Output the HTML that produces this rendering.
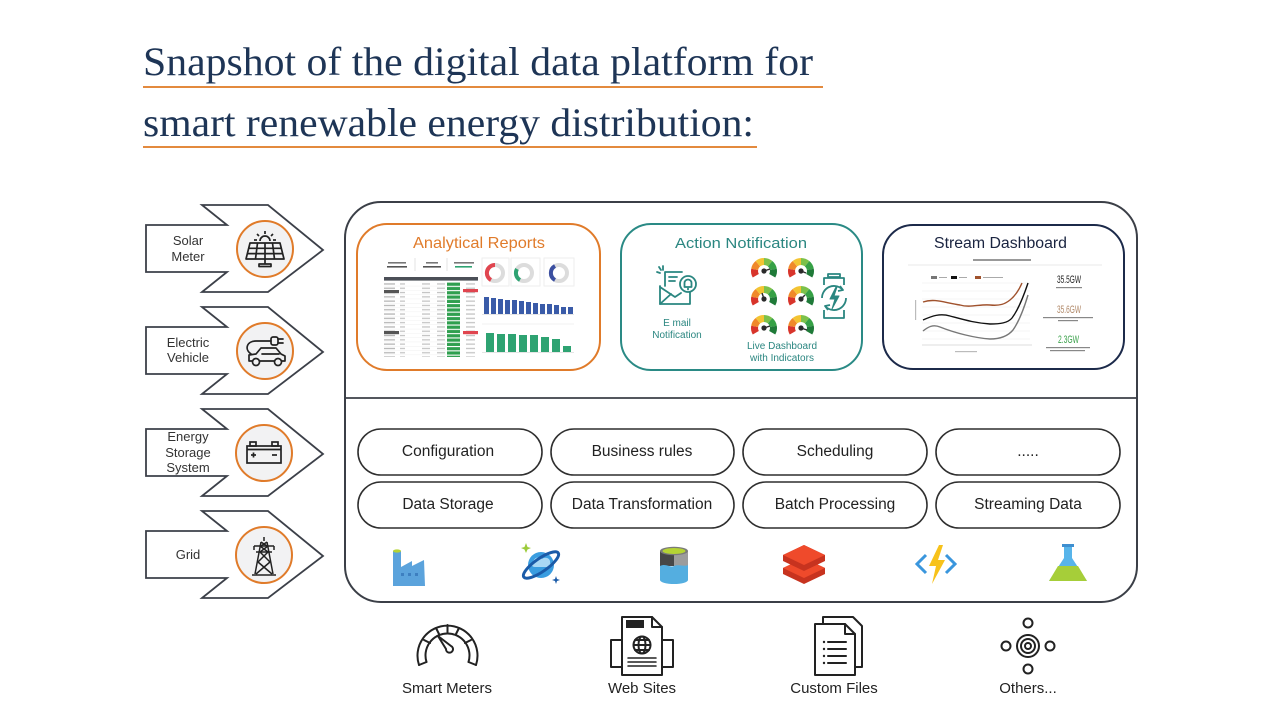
<!DOCTYPE html>
<html><head><meta charset="utf-8">
<style>
html,body{margin:0;padding:0;background:#fff;}
svg{display:block;}
text{font-family:"Liberation Sans",sans-serif;}
</style></head>
<body>
<svg width="1280" height="720" viewBox="0 0 1280 720" xmlns="http://www.w3.org/2000/svg">
<defs>
  <pattern id="rows" patternUnits="userSpaceOnUse" x="384" y="282" width="100" height="4.3">
    <rect x="0" y="1.3" width="11" height="1.3" fill="#b5b5b5"/>
    <rect x="16" y="1.3" width="5" height="1.3" fill="#c4c4c4"/>
    <rect x="38" y="1.3" width="8" height="1.3" fill="#c4c4c4"/>
    <rect x="53" y="1.3" width="8" height="1.3" fill="#c4c4c4"/>
    <rect x="0" y="4.0" width="100" height="0.3" fill="#e6e6e6"/>
  </pattern>
  <pattern id="greens" patternUnits="userSpaceOnUse" x="447" y="282" width="20" height="4.3">
    <rect x="0" y="0.6" width="13" height="3.2" fill="#2f9f4f"/>
  </pattern>
  <pattern id="grays" patternUnits="userSpaceOnUse" x="463" y="282" width="20" height="4.3">
    <rect x="3" y="1.3" width="9" height="1.3" fill="#c4c4c4"/>
  </pattern>
  <g id="gauge">
    <path d="M-8.23,4.75 A9.5,9.5 0 0 1 -9.36,-1.65" fill="none" stroke="#d8342b" stroke-width="7"/>
    <path d="M-9.36,-1.65 A9.5,9.5 0 0 1 -6.11,-7.28" fill="none" stroke="#f0892a" stroke-width="7"/>
    <path d="M-6.11,-7.28 A9.5,9.5 0 0 1 0,-9.5" fill="none" stroke="#f3c433" stroke-width="7"/>
    <path d="M0,-9.5 A9.5,9.5 0 0 1 6.11,-7.28" fill="none" stroke="#7cc14a" stroke-width="7"/>
    <path d="M6.11,-7.28 A9.5,9.5 0 0 1 9.36,-1.65" fill="none" stroke="#36a146" stroke-width="7"/>
    <path d="M9.36,-1.65 A9.5,9.5 0 0 1 8.23,4.75" fill="none" stroke="#1f7a38" stroke-width="7"/>
    <circle cx="0" cy="0" r="2.6" fill="#2a2a2a"/>
  </g>
</defs>

<!-- Title -->
<text x="143" y="75" style="font-family:'Liberation Serif',serif" font-size="40" fill="#1e3556" textLength="670" lengthAdjust="spacingAndGlyphs">Snapshot of the digital data platform for</text>
<line x1="143" y1="87" x2="823" y2="87" stroke="#e38a3e" stroke-width="2"/>
<text x="143" y="136" style="font-family:'Liberation Serif',serif" font-size="40" fill="#1e3556" textLength="611" lengthAdjust="spacingAndGlyphs">smart renewable energy distribution:</text>
<line x1="143" y1="147" x2="757" y2="147" stroke="#e38a3e" stroke-width="2"/>

<!-- Left arrows -->
<g fill="#fff" stroke="#3c4049" stroke-width="1.8" stroke-linejoin="miter">
  <polygon points="202,205 268,205 323,250 268,292 202,292 227,272 146,272 146,225 227,225"/>
  <polygon points="202,307 268,307 323,352 268,394 202,394 227,374 146,374 146,327 227,327"/>
  <polygon points="202,409 268,409 323,454 268,496 202,496 227,476 146,476 146,429 227,429"/>
  <polygon points="202,511 268,511 323,556 268,598 202,598 227,578 146,578 146,531 227,531"/>
</g>
<g fill="#f2f2f3" stroke="#e07b2a" stroke-width="2">
  <circle cx="265" cy="249" r="28"/>
  <circle cx="265" cy="351" r="28"/>
  <circle cx="264" cy="453" r="28"/>
  <circle cx="264" cy="555" r="28"/>
</g>
<g font-size="13" fill="#333" text-anchor="middle">
  <text x="188" y="245">Solar</text>
  <text x="188" y="261">Meter</text>
  <text x="188" y="347">Electric</text>
  <text x="188" y="362">Vehicle</text>
  <text x="188" y="441">Energy</text>
  <text x="188" y="457">Storage</text>
  <text x="188" y="472">System</text>
  <text x="188" y="559">Grid</text>
</g>

<!-- Solar icon -->
<g fill="none" stroke="#222" stroke-width="1.7" stroke-linejoin="round">
  <path d="M260,241 A5,5 0 0 1 270,241"/>
  <line x1="265" y1="231" x2="265" y2="234"/><line x1="257" y1="234" x2="259" y2="236"/><line x1="273" y1="234" x2="271" y2="236"/>
  <line x1="254" y1="240" x2="257" y2="240"/><line x1="273" y1="240" x2="276" y2="240"/>
  <polygon points="250,243 280,243 284,259 246,259"/>
  <line x1="248.7" y1="248.3" x2="281.3" y2="248.3"/><line x1="247.4" y1="253.6" x2="282.6" y2="253.6"/>
  <line x1="257.5" y1="243" x2="255.5" y2="259"/><line x1="265" y1="243" x2="265" y2="259"/><line x1="272.5" y1="243" x2="274.5" y2="259"/>
  <line x1="265" y1="259" x2="265" y2="264"/><rect x="259" y="264" width="12" height="2.5"/>
</g>
<!-- EV icon -->
<g fill="none" stroke="#222" stroke-width="1.7" stroke-linejoin="round" stroke-linecap="round">
  <path d="M249,361 L249,355 L256,354 L261,348 L276,348 L281,354 L285,356 L285,361 Z" fill="#f2f2f3"/>
  <line x1="262" y1="354" x2="279" y2="354"/>
  <circle cx="256" cy="362" r="3.5" fill="#f2f2f3"/><circle cx="278" cy="362" r="3.5" fill="#f2f2f3"/>
  <path d="M251,354 C244,349 247,341 256,341 L271,341"/>
  <rect x="271" y="337" width="7" height="8" rx="2"/>
  <line x1="278" y1="339" x2="283" y2="339"/><line x1="278" y1="343" x2="283" y2="343"/>
</g>
<!-- Battery icon -->
<g fill="none" stroke="#222" stroke-width="1.7">
  <rect x="247" y="446" width="34" height="17"/>
  <line x1="247" y1="449.5" x2="281" y2="449.5"/>
  <rect x="250" y="442" width="6" height="4"/><rect x="272" y="442" width="6" height="4"/>
  <line x1="251" y1="455" x2="256" y2="455"/><line x1="253.5" y1="452.5" x2="253.5" y2="457.5"/>
  <line x1="272" y1="455" x2="277" y2="455"/>
</g>
<!-- Tower icon -->
<g fill="none" stroke="#222" stroke-width="1.5">
  <line x1="264" y1="537" x2="264" y2="541"/>
  <line x1="261" y1="542" x2="255" y2="574"/><line x1="267" y1="542" x2="273" y2="574"/>
  <line x1="254" y1="546" x2="274" y2="546"/><line x1="256" y1="552" x2="272" y2="552"/>
  <line x1="254" y1="546" x2="254" y2="550"/><line x1="274" y1="546" x2="274" y2="550"/>
  <line x1="261" y1="542" x2="267" y2="546"/><line x1="267" y1="542" x2="261" y2="546"/>
  <line x1="260" y1="546" x2="268" y2="552"/><line x1="268" y1="546" x2="260" y2="552"/>
  <line x1="260" y1="552" x2="270" y2="562"/><line x1="268" y1="552" x2="258" y2="562"/>
  <line x1="258" y1="562" x2="272" y2="574"/><line x1="270" y1="562" x2="256" y2="574"/>
  <line x1="252" y1="575" x2="276" y2="575"/>
</g>

<!-- Outer platform box -->
<rect x="345" y="202" width="792" height="400" rx="36" fill="#fff" stroke="#3b3f47" stroke-width="2"/>
<line x1="345" y1="398" x2="1137" y2="398" stroke="#3b3f47" stroke-width="1.8"/>

<!-- Analytical Reports -->
<rect x="357" y="224" width="243" height="146" rx="30" fill="#fff" stroke="#e07b2a" stroke-width="2"/>
<text x="413" y="248" font-size="16" fill="#e07b2a" textLength="132" lengthAdjust="spacingAndGlyphs">Analytical Reports</text>
<g>
  <rect x="388" y="262" width="18" height="1.6" fill="#777"/><rect x="387" y="266" width="20" height="1.6" fill="#555"/>
  <rect x="426" y="262" width="12" height="1.6" fill="#777"/><rect x="423" y="266" width="18" height="1.6" fill="#555"/>
  <rect x="454" y="262" width="20" height="1.6" fill="#777"/><rect x="455" y="266" width="17" height="1.6" fill="#2ea372"/>
  <line x1="415" y1="258" x2="415" y2="271" stroke="#e3e3e3"/><line x1="447" y1="258" x2="447" y2="271" stroke="#e3e3e3"/>
  <rect x="384" y="277" width="94" height="3.6" fill="#4b4f57"/>
  <rect x="384" y="282" width="62" height="75" fill="url(#rows)"/>
  <rect x="447" y="282" width="14" height="75" fill="url(#greens)"/>
  <rect x="463" y="282" width="15" height="75" fill="url(#grays)"/>
  <rect x="384" y="290" width="15" height="3.2" fill="#555"/>
  <rect x="384" y="331" width="15" height="3.2" fill="#555"/>
  <rect x="463" y="289" width="15" height="3.2" fill="#e0454f"/>
  <rect x="463" y="331" width="15" height="3.2" fill="#e0454f"/>
  <!-- gauges -->
  <rect x="482" y="258" width="27" height="28" fill="none" stroke="#eee"/>
  <rect x="511" y="258" width="29" height="28" fill="none" stroke="#eee"/>
  <rect x="544" y="258" width="30" height="28" fill="none" stroke="#eee"/>
  <circle cx="495" cy="273" r="8" fill="none" stroke="#dcdcdc" stroke-width="4"/>
  <path d="M491,280 A8,8 0 0 1 495,265" fill="none" stroke="#e0454f" stroke-width="4"/>
  <circle cx="524" cy="273" r="8" fill="none" stroke="#dcdcdc" stroke-width="4"/>
  <path d="M520,280 A8,8 0 0 1 517,269" fill="none" stroke="#2ea372" stroke-width="4"/>
  <circle cx="559" cy="273" r="8" fill="none" stroke="#dcdcdc" stroke-width="4"/>
  <path d="M555,280 A8,8 0 0 1 555,266" fill="none" stroke="#3b4fa0" stroke-width="4"/>
  <!-- blue bars -->
  <g fill="#3a5ba8">
    <rect x="484" y="297" width="5" height="17"/><rect x="491" y="298" width="5" height="16"/><rect x="498" y="299" width="5" height="15"/>
    <rect x="505" y="300" width="5" height="14"/><rect x="512" y="300" width="5" height="14"/><rect x="519" y="301" width="5" height="13"/>
    <rect x="526" y="302" width="5" height="12"/><rect x="533" y="303" width="5" height="11"/><rect x="540" y="304" width="5" height="10"/>
    <rect x="547" y="304" width="5" height="10"/><rect x="554" y="305" width="5" height="9"/><rect x="561" y="307" width="5" height="7"/>
    <rect x="568" y="307" width="5" height="7"/>
  </g>
  <line x1="482" y1="314.5" x2="574" y2="314.5" stroke="#ccc" stroke-width="0.6"/>
  <line x1="482" y1="324" x2="574" y2="324" stroke="#e5e5e5" stroke-width="0.6"/>
  <g fill="#2ea372">
    <rect x="486" y="333" width="8" height="19"/><rect x="497" y="334" width="8" height="18"/><rect x="508" y="334" width="8" height="18"/>
    <rect x="519" y="335" width="8" height="17"/><rect x="530" y="335" width="8" height="17"/><rect x="541" y="337" width="8" height="15"/>
    <rect x="552" y="339" width="8" height="13"/><rect x="563" y="346" width="8" height="6"/>
  </g>
  <line x1="482" y1="352.5" x2="574" y2="352.5" stroke="#ccc" stroke-width="0.6"/>
</g>

<!-- Action Notification -->
<rect x="621" y="224" width="241" height="146" rx="30" fill="#fff" stroke="#2a8a85" stroke-width="2"/>
<text x="675" y="248" font-size="15" fill="#2a8680" textLength="132" lengthAdjust="spacingAndGlyphs">Action Notification</text>
<g fill="none" stroke="#2a8680" stroke-width="1.8" stroke-linejoin="round" stroke-linecap="round">
  <line x1="663" y1="266" x2="663" y2="270"/><line x1="657" y1="272" x2="660" y2="273"/><line x1="659" y1="267" x2="661" y2="270"/>
  <path d="M665,286 L665,272 L682,272"/>
  <line x1="669" y1="277" x2="677" y2="277"/><line x1="669" y1="281" x2="675" y2="281"/>
  <path d="M660,286 L660,304 L690,304 L690,292"/>
  <path d="M660,287 L675,297 L681,293"/>
  <line x1="660" y1="304" x2="671" y2="294"/>
  <circle cx="688" cy="284" r="8" fill="#fff"/>
  <path d="M684.5,287 L684.5,283 A3.5,3.5 0 0 1 691.5,283 L691.5,287 Z"/><line x1="688" y1="288.5" x2="688" y2="289.5"/>
</g>
<g font-size="10" fill="#2a8680" text-anchor="middle">
  <text x="677" y="326">E mail</text>
  <text x="677" y="338">Notification</text>
  <text x="782" y="349">Live Dashboard</text>
  <text x="782" y="361">with Indicators</text>
</g>
<use href="#gauge" x="764" y="271"/>
<use href="#gauge" x="801" y="271"/>
<use href="#gauge" x="764" y="299"/>
<use href="#gauge" x="801" y="299"/>
<use href="#gauge" x="764" y="328"/>
<use href="#gauge" x="801" y="328"/>
<g stroke="#2a2a2a" stroke-width="1.4">
  <line x1="764" y1="271" x2="770" y2="269"/><line x1="801" y1="271" x2="806" y2="273"/>
  <line x1="764" y1="299" x2="762" y2="293"/><line x1="801" y1="299" x2="805" y2="295"/>
  <line x1="764" y1="328" x2="770" y2="326"/><line x1="801" y1="328" x2="807" y2="330"/>
</g>
<g fill="none" stroke="#2a8680" stroke-width="1.8" stroke-linejoin="round">
  <rect x="828" y="274" width="12" height="3"/>
  <path d="M824,285 L824,278 L844,278 L844,285"/>
  <path d="M824,310 L824,318 L844,318 L844,310"/>
  <path d="M822,298 A12,12 0 0 1 842,289"/><path d="M846,298 A12,12 0 0 1 826,307"/>
  <path d="M840,286 L843,290 L838,291"/><path d="M828,310 L825,306 L830,305"/>
  <path d="M836,287 L830,299 L835,299 L832,309 L839,296 L834,296 L837,287" fill="#2a8680" stroke-width="1"/>
</g>

<!-- Stream Dashboard -->
<rect x="883" y="225" width="241" height="144" rx="30" fill="#fff" stroke="#1c2a4a" stroke-width="2"/>
<text x="934" y="248" font-size="15.5" fill="#1a2440" textLength="133" lengthAdjust="spacingAndGlyphs">Stream Dashboard</text>
<rect x="973" y="259" width="58" height="2" fill="#999"/>
<line x1="908" y1="265" x2="1102" y2="265" stroke="#e0e0e0" stroke-width="0.8"/>
<rect x="931" y="276" width="6" height="3" fill="#777"/><rect x="939" y="277" width="8" height="1" fill="#aaa"/>
<rect x="951" y="276" width="6" height="3" fill="#111"/><rect x="959" y="277" width="8" height="1" fill="#aaa"/>
<rect x="975" y="276" width="6" height="3" fill="#a0522d"/><rect x="983" y="277" width="20" height="1" fill="#aaa"/>
<g stroke="#ededed" stroke-width="0.6">
  <line x1="922" y1="283" x2="1030" y2="283"/><line x1="922" y1="291" x2="1030" y2="291"/><line x1="922" y1="299" x2="1030" y2="299"/>
  <line x1="922" y1="307" x2="1030" y2="307"/><line x1="922" y1="315" x2="1030" y2="315"/><line x1="922" y1="323" x2="1030" y2="323"/>
  <line x1="922" y1="331" x2="1030" y2="331"/><line x1="922" y1="339" x2="1030" y2="339"/>
</g>
<line x1="922" y1="345" x2="1032" y2="345" stroke="#bbb" stroke-width="0.6"/>
<rect x="915" y="300" width="1.2" height="20" fill="#bbb"/>
<rect x="955" y="351" width="22" height="1.2" fill="#bbb"/>
<g fill="none" stroke-width="1.4">
  <path d="M923,302 C935,298 945,303 960,305 C970,308 980,304 990,305 C1000,306 1005,304 1010,300 C1015,296 1019,290 1022,283" stroke="#a0522d"/>
  <path d="M923,320 C932,316 940,313 950,316 C965,320 975,323 990,324 C1000,324 1008,323 1012,318 C1018,310 1024,295 1028,283" stroke="#111"/>
  <path d="M923,331 C928,327 933,324 940,327 C955,333 975,338 990,339 C1000,339 1008,336 1013,330 C1020,320 1025,305 1028,295" stroke="#777"/>
</g>
<text x="1057" y="283" font-size="11" fill="#222" textLength="24" lengthAdjust="spacingAndGlyphs">35.5GW</text>
<rect x="1056" y="287" width="26" height="1.2" fill="#888"/>
<text x="1057" y="313" font-size="11" fill="#b08868" textLength="24" lengthAdjust="spacingAndGlyphs">35.6GW</text>
<rect x="1043" y="317" width="50" height="1.2" fill="#888"/><rect x="1058" y="320" width="20" height="1.2" fill="#888"/>
<text x="1058" y="343" font-size="11" fill="#3aa14a" textLength="21" lengthAdjust="spacingAndGlyphs">2.3GW</text>
<rect x="1046" y="347" width="44" height="1.2" fill="#888"/><rect x="1050" y="350" width="35" height="1.2" fill="#888"/>

<!-- Pills -->
<g fill="#fff" stroke="#2f2f2f" stroke-width="1.6">
  <rect x="358" y="429" width="184" height="46" rx="23"/>
  <rect x="551" y="429" width="183" height="46" rx="23"/>
  <rect x="743" y="429" width="184" height="46" rx="23"/>
  <rect x="936" y="429" width="184" height="46" rx="23"/>
  <rect x="358" y="482" width="184" height="46" rx="23"/>
  <rect x="551" y="482" width="183" height="46" rx="23"/>
  <rect x="743" y="482" width="184" height="46" rx="23"/>
  <rect x="936" y="482" width="184" height="46" rx="23"/>
</g>
<g font-size="15.5" fill="#222" text-anchor="middle">
  <text x="448" y="456">Configuration</text>
  <text x="642" y="456">Business rules</text>
  <text x="835" y="456">Scheduling</text>
  <text x="1028" y="456">.....</text>
  <text x="448" y="509">Data Storage</text>
  <text x="642" y="509">Data Transformation</text>
  <text x="835" y="509">Batch Processing</text>
  <text x="1028" y="509">Streaming Data</text>
</g>

<!-- Azure-like icons -->
<rect x="393" y="551" width="8" height="35" fill="#5ba3dc"/>
<ellipse cx="397" cy="551" rx="4" ry="1.6" fill="#b5d334"/>
<polygon points="401,567 412,561 412,566 424,560 425,586 401,586" fill="#5ba3dc"/>
<g fill="#3d7fc0"><rect x="401" y="573" width="3" height="3"/><rect x="408" y="573" width="3" height="3"/><rect x="415" y="573" width="3" height="3"/></g>
<circle cx="541" cy="565" r="13" fill="#3a9de0"/>
<path d="M533,562 C534,557 540,556 542,559 C546,556 551,559 550,563 C552,565 549,568 546,567 L535,567 C531,567 531,563 533,562 Z" fill="#a9d8f5"/>
<ellipse cx="541" cy="565" rx="21" ry="6.5" transform="rotate(-35 541 565)" fill="none" stroke="#1b5ba8" stroke-width="3"/>
<path d="M526,543 L527.5,547 L531,548 L527.5,549.5 L526,553 L524.5,549.5 L521,548 L524.5,547 Z" fill="#9ccb3b"/>
<path d="M556,576 L557,579 L560,580 L557,581 L556,584 L555,581 L552,580 L555,579 Z" fill="#1b5ba8"/>
<rect x="660" y="551" width="14" height="15" fill="#474747"/>
<rect x="674" y="551" width="14" height="15" fill="#9c9c9c"/>
<path d="M660,566 C666,563 670,568 674,566 C679,564 684,567 688,565 L688,580 A14,4 0 0 1 660,580 Z" fill="#54aee0"/>
<ellipse cx="674" cy="551" rx="14" ry="4.2" fill="#7a7a7a"/>
<ellipse cx="674" cy="551" rx="11.5" ry="3" fill="#b5d334"/>
<polygon points="783,568 804,558 825,568 825,574 804,584 783,574" fill="#c7331f"/>
<polygon points="783,568 804,558 825,568 804,578" fill="#ef4a2b"/>
<polygon points="783,555 804,545 825,555 825,561 804,571 783,561" fill="#c7331f"/>
<polygon points="783,555 804,545 825,555 804,565" fill="#ef4a2b"/>
<polyline points="926,555 917,564 926,573" fill="none" stroke="#3a96dd" stroke-width="3"/>
<polyline points="946,555 955,564 946,573" fill="none" stroke="#3a96dd" stroke-width="3"/>
<polygon points="939,545 929,566 936,566 932,584 945,560 938,560 943,545" fill="#f7c21b"/>
<rect x="1062" y="544" width="12" height="3" fill="#3f8fd0"/>
<polygon points="1064,547 1072,547 1072,558 1087,581 1049,581 1064,558" fill="#57b4ea"/>
<polygon points="1058,566 1078,566 1087,581 1049,581" fill="#a6ce39"/>

<!-- Bottom source icons -->
<g fill="none" stroke="#222" stroke-width="2" stroke-linejoin="round" stroke-linecap="round">
  <path d="M419,665 A30,30 0 1 1 476,665"/>
  <path d="M426.5,662 A22,22 0 1 1 468.5,662"/>
  <line x1="419" y1="665" x2="426.5" y2="662"/><line x1="476" y1="665" x2="468.5" y2="662"/>
  <line x1="424" y1="640" x2="430" y2="643"/><line x1="436" y1="628" x2="439" y2="634"/>
  <line x1="459" y1="628" x2="456" y2="634"/><line x1="471" y1="640" x2="465" y2="643"/>
  <line x1="447.5" y1="625" x2="447.5" y2="633"/>
  <path d="M438,636 L446,649 A3.5,3.5 0 1 0 451,646 Z"/>
  <path d="M622,617 L652,617 L662,627 L662,675 L622,675 Z"/>
  <path d="M652,617 L652,627 L662,627"/>
  <rect x="611" y="640" width="11" height="27"/><rect x="662" y="640" width="11" height="27"/>
  <circle cx="642" cy="645" r="8.5"/>
  <line x1="633.5" y1="645" x2="650.5" y2="645"/>
  <ellipse cx="642" cy="645" rx="3.5" ry="8.5"/>
  <line x1="635" y1="640" x2="649" y2="640"/><line x1="635" y1="650" x2="649" y2="650"/>
  <line x1="628" y1="658" x2="656" y2="658" stroke-width="1.5"/>
  <line x1="628" y1="662" x2="656" y2="662" stroke-width="1.5"/>
  <line x1="628" y1="666" x2="656" y2="666" stroke-width="1.5"/>
  <path d="M823,624 L823,617 L853,617 L862,626 L862,667 L855,667"/>
  <path d="M815,624 L845,624 L855,634 L855,675 L815,675 Z" fill="#fff"/>
  <path d="M845,624 L845,634 L855,634"/>
  <line x1="828" y1="642" x2="846" y2="642"/><line x1="828" y1="649" x2="846" y2="649"/>
  <line x1="828" y1="656" x2="846" y2="656"/><line x1="828" y1="663" x2="846" y2="663"/>
  <circle cx="1028" cy="646" r="11"/>
  <circle cx="1028" cy="646" r="7"/>
  <circle cx="1028" cy="646" r="3"/>
  <circle cx="1028" cy="623" r="4.5"/><circle cx="1006" cy="646" r="4.5"/>
  <circle cx="1050" cy="646" r="4.5"/><circle cx="1028" cy="669" r="4.5"/>
</g>
<rect x="626" y="620" width="18" height="8" fill="#222"/>
<g fill="#222"><circle cx="824" cy="642" r="1.2"/><circle cx="824" cy="649" r="1.2"/><circle cx="824" cy="656" r="1.2"/><circle cx="824" cy="663" r="1.2"/></g>

<g font-size="15" fill="#222" text-anchor="middle">
  <text x="447" y="693">Smart Meters</text>
  <text x="642" y="693">Web Sites</text>
  <text x="834" y="693">Custom Files</text>
  <text x="1028" y="693">Others...</text>
</g>
</svg>
</body></html>
